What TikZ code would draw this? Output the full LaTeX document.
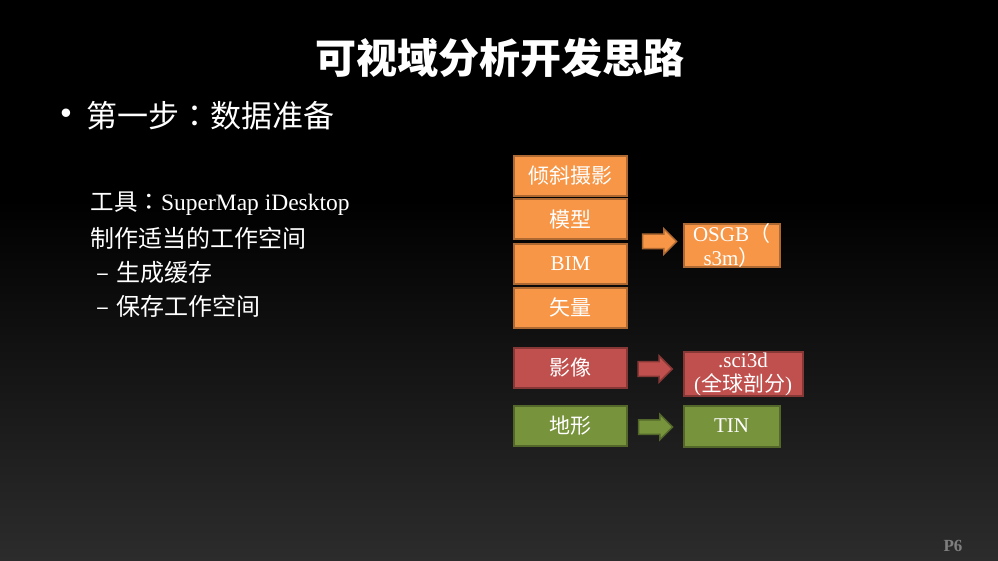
\documentclass[tikz,border=0pt]{standalone}
\usepackage{fontspec}
\setmainfont{Liberation Serif}
\newfontfamily\cjk{Noto Sans CJK SC}
\newfontfamily\cjkcolon{Noto Sans CJK JP}
\newfontfamily\bulletfont{Liberation Sans}
\usetikzlibrary{shapes.arrows}
\definecolor{bggray}{HTML}{2C2C2C}
\definecolor{boxorange}{HTML}{F79646}
\definecolor{boxred}{HTML}{C0504D}
\definecolor{boxgreen}{HTML}{77933C}
\definecolor{pagegray}{HTML}{7F7F7F}
\newcommand{\zhcolon}{{\cjkcolon ：}}
\tikzset{
  databox/.style={draw=#1!70!black, fill=#1, line width=2pt, minimum width=113pt,
    minimum height=40pt, inner sep=0pt, text=white, align=center,
    font=\fontsize{21}{24}\selectfont},
  blockarrow/.style={single arrow, draw=#1!70!black, fill=#1, line width=1.5pt,
    minimum width=24pt, minimum height=34pt, single arrow head extend=5.5pt,
    inner xsep=0pt, inner ysep=6.5pt},
}
\begin{document}
\begin{tikzpicture}[x=1pt,y=-1pt]
	\useasboundingbox (0,0) rectangle (998,561);
	\fill[black] (0,0) rectangle (998,200);
	\shade[top color=black, bottom color=bggray] (0,199) rectangle (998,561);
	% title and bullet
	\node[text=white, font=\cjk\bfseries\fontsize{41}{44}\selectfont] (title) at (500,58) {可视域分析开发思路};
	\node[text=white, font=\bulletfont\fontsize{31}{34}\selectfont] (dot) at (66,116) {•};
	\node[text=white, anchor=west, font=\cjk\fontsize{31}{34}\selectfont] (step) at (83,116) {第一步\zhcolon 数据准备};
	% tools
	\node[text=white, anchor=west, font=\fontsize{23.5}{26}\selectfont] (tool) at (87,204) {{\cjk 工具\zhcolon}SuperMap iDesktop};
	\node[text=white, anchor=west, font=\cjk\fontsize{24}{26}\selectfont] (work) at (87,238) {制作适当的工作空间};
	\node[text=white, anchor=west, font=\cjk\fontsize{24}{26}\selectfont] (cache) at (93,272) {–\hspace{7pt}生成缓存};
	\node[text=white, anchor=west, font=\cjk\fontsize{24}{26}\selectfont] (save) at (93,306) {–\hspace{7pt}保存工作空间};
	% source data
	\node[databox=boxorange] (tilt) at (570.5,176) {\cjk 倾斜摄影};
	\node[databox=boxorange] (model) at (570.5,219.5) {\cjk 模型};
	\node[databox=boxorange] (bim) at (570.5,264) {BIM};
	\node[databox=boxorange] (vector) at (570.5,307.5) {\cjk 矢量};
	\node[databox=boxred] (image) at (570.5,368) {\cjk 影像};
	\node[databox=boxgreen] (terrain) at (570.5,426) {\cjk 地形};
	% results
	\node[databox=boxorange, minimum width=96pt, minimum height=42pt] (osgb) at (731.5,245.5) {OSGB{\cjk （}\\ s3m{\cjk ）}};
	\node[databox=boxred, minimum width=119pt, minimum height=41pt] (sci) at (743,374) {.sci3d\\({\cjk 全球剖分})};
	\node[databox=boxgreen, minimum width=96pt, minimum height=41pt] (tin) at (731.5,426) {TIN};
	\node[blockarrow=boxorange] (toosgb) at (656,241.5) {};
	\node[blockarrow=boxred, minimum width=26pt] (tosci) at (651.5,369) {};
	\node[blockarrow=boxgreen] (totin) at (652,427) {};
	% page
	\node[text=pagegray, font=\bfseries\fontsize{17}{18}\selectfont] (page) at (953,546) {P6};
\end{tikzpicture}
\end{document}
